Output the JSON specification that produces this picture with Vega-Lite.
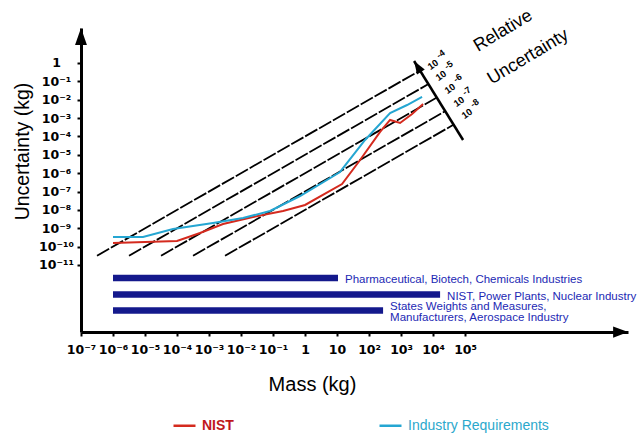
{
  "$schema": "https://vega.github.io/schema/vega-lite/v6.json",
  "width": 547,
  "height": 304,
  "autosize": {"type": "none"},
  "padding": {"left": 81, "top": 28, "right": 14, "bottom": 114},
  "background": "white",
  "config": {"view": {"stroke": null}, "font": "Liberation Sans"},
  "datasets": {
    "series": [
      {"series": "NIST", "m": 1e-6, "u": 1.57e-10},
      {"series": "NIST", "m": 1e-4, "u": 2.02e-10},
      {"series": "NIST", "m": 5.24e-4, "u": 5.5e-10},
      {"series": "NIST", "m": 2.74e-3, "u": 1.7e-9},
      {"series": "NIST", "m": 0.0237, "u": 4.09e-9},
      {"series": "NIST", "m": 0.205, "u": 8.7e-9},
      {"series": "NIST", "m": 1, "u": 1.85e-8},
      {"series": "NIST", "m": 14.3, "u": 2.57e-7},
      {"series": "NIST", "m": 52.4, "u": 5.2e-6},
      {"series": "NIST", "m": 221, "u": 1.75e-4},
      {"series": "NIST", "m": 453, "u": 7.9e-4},
      {"series": "NIST", "m": 931, "u": 5.4e-4},
      {"series": "NIST", "m": 2208, "u": 1.67e-3},
      {"series": "NIST", "m": 4875, "u": 5.85e-3},
      {"series": "Industry Requirements", "m": 1e-6, "u": 3.33e-10},
      {"series": "Industry Requirements", "m": 8.66e-6, "u": 3.33e-10},
      {"series": "Industry Requirements", "m": 7.5e-5, "u": 9.1e-10},
      {"series": "Industry Requirements", "m": 1.33e-3, "u": 1.93e-9},
      {"series": "Industry Requirements", "m": 0.01155, "u": 3.61e-9},
      {"series": "Industry Requirements", "m": 0.0806, "u": 8.7e-9},
      {"series": "Industry Requirements", "m": 0.698, "u": 5.7e-8},
      {"series": "Industry Requirements", "m": 12.4, "u": 1.16e-6},
      {"series": "Industry Requirements", "m": 75, "u": 6.4e-5},
      {"series": "Industry Requirements", "m": 453, "u": 1.89e-3},
      {"series": "Industry Requirements", "m": 1540, "u": 5.15e-3},
      {"series": "Industry Requirements", "m": 4530, "u": 1.41e-2}
    ],
    "refLines": [
      {"k": "1e-4", "m": 3.162e-7, "u": 3.162e-11},
      {"k": "1e-4", "m": 4074, "u": 0.4074},
      {"k": "1e-5", "m": 3.162e-6, "u": 3.162e-11},
      {"k": "1e-5", "m": 7413, "u": 0.07413},
      {"k": "1e-6", "m": 3.162e-5, "u": 3.162e-11},
      {"k": "1e-6", "m": 13490, "u": 0.01349},
      {"k": "1e-7", "m": 3.162e-4, "u": 3.162e-11},
      {"k": "1e-7", "m": 24547, "u": 0.0024547},
      {"k": "1e-8", "m": 3.162e-3, "u": 3.162e-11},
      {"k": "1e-8", "m": 45709, "u": 4.5709e-4}
    ],
    "bars": [
      {"m0": 1e-6, "m": 10.7, "u": 1.95e-12, "label": "Pharmaceutical, Biotech, Chemicals Industries"},
      {"m0": 1e-6, "m": 16558, "u": 2.45e-13, "label": "NIST, Power Plants, Nuclear Industry"},
      {"m0": 1e-6, "m": 274, "u": 3.31e-14, "label": "States Weights and Measures,\nManufacturers, Aerospace Industry"}
    ],
    "relAxis": [
      {"m": 86596, "u": 6.4e-5, "m2": 2547, "u2": 1.285}
    ],
    "arrows": [
      {"name": "yaxis", "m": 1e-7, "u": 27.7},
      {"name": "xaxis", "m": 7.24e9, "u": 2.239e-15},
      {"name": "rel", "m": 3254, "u": 0.645}
    ],
    "rLabels": [
      {"m": 14322, "u": 1.455, "exp": "-4"},
      {"m": 25468, "u": 0.3664, "exp": "-5"},
      {"m": 48753, "u": 0.07178, "exp": "-6"},
      {"m": 93111, "u": 0.01406, "exp": "-7"},
      {"m": 165577, "u": 0.003126, "exp": "-8"}
    ],
    "annot": [
      {"m": 1.549e6, "u": 55.3, "label": "Relative"},
      {"m": 9.33e6, "u": 2.12, "label": "Uncertainty"}
    ]
  },
  "encoding": {
    "x": {
      "field": "m",
      "type": "quantitative",
      "scale": {"type": "log", "domain": [1e-7, 1.23e10], "nice": false},
      "axis": {
        "title": "Mass (kg)",
        "values": [1e-7, 1e-6, 1e-5, 1e-4, 1e-3, 1e-2, 1e-1, 1, 10, 100, 1000, 10000, 100000],
        "labelExpr": "['10⁻⁷','10⁻⁶','10⁻⁵','10⁻⁴','10⁻³','10⁻²','10⁻¹','1','10','10²','10³','10⁴','10⁵'][round(log(datum.value)/LN10)+7]",
        "grid": false,
        "domainColor": "black",
        "domainWidth": 3,
        "tickColor": "black",
        "tickWidth": 2,
        "tickSize": 4,
        "labelFont": "DejaVu Sans",
        "labelFontSize": 12.5,
        "labelFontWeight": "bold",
        "labelColor": "black",
        "labelPadding": 7,
        "labelFlush": false,
        "labelOverlap": false,
        "titleFontSize": 20,
        "titleFontWeight": "normal",
        "titleColor": "black",
        "titleX": 231,
        "titleY": 52,
        "titleAlign": "center",
        "titleBaseline": "middle"
      }
    },
    "y": {
      "field": "u",
      "type": "quantitative",
      "scale": {"type": "log", "domain": [2.239e-15, 80.5], "nice": false},
      "axis": {
        "title": "Uncertainty (kg)",
        "values": [1e-11, 1e-10, 1e-9, 1e-8, 1e-7, 1e-6, 1e-5, 1e-4, 1e-3, 1e-2, 1e-1, 1],
        "labelExpr": "['10⁻¹¹','10⁻¹⁰','10⁻⁹','10⁻⁸','10⁻⁷','10⁻⁶','10⁻⁵','10⁻⁴','10⁻³','10⁻²','10⁻¹','1'][round(log(datum.value)/LN10)+11]",
        "grid": false,
        "domainColor": "black",
        "domainWidth": 3,
        "tickColor": "black",
        "tickWidth": 2,
        "tickSize": 4,
        "labelFont": "DejaVu Sans",
        "labelFontSize": 12.5,
        "labelFontWeight": "bold",
        "labelColor": "black",
        "labelAlign": "center",
        "labelBaseline": "middle",
        "labelPadding": 21,
        "labelFlush": false,
        "labelOverlap": false,
        "titleFontSize": 19.5,
        "titleFontWeight": "normal",
        "titleColor": "black",
        "titleAngle": -90,
        "titleX": -59,
        "titleY": 123,
        "titleAlign": "center",
        "titleBaseline": "middle"
      }
    }
  },
  "layer": [
    {
      "data": {"name": "refLines"},
      "mark": {"type": "line", "color": "black", "strokeWidth": 1.8, "strokeDash": [14, 2]},
      "encoding": {"detail": {"field": "k", "type": "nominal"}}
    },
    {
      "data": {"name": "series"},
      "mark": {"type": "line", "strokeWidth": 2},
      "encoding": {
        "color": {
          "field": "series",
          "type": "nominal",
          "scale": {"domain": ["NIST", "Industry Requirements"], "range": ["#d42a1e", "#25a6d2"]},
          "legend": {
            "orient": "none",
            "legendX": 91,
            "legendY": 385,
            "direction": "horizontal",
            "title": null,
            "padding": 0,
            "symbolType": "stroke",
            "symbolSize": 484,
            "symbolStrokeWidth": 2.5,
            "labelFontSize": 14,
            "labelOffset": 5,
            "columnPadding": 140,
            "labelColor": {"expr": "datum.value === 'NIST' ? '#c0181c' : '#2ba8cc'"},
            "labelFontWeight": {"expr": "datum.value === 'NIST' ? 'bold' : 'normal'"}
          }
        }
      }
    },
    {
      "data": {"name": "bars"},
      "mark": {"type": "rule", "strokeWidth": 6.5, "color": "#14198c"},
      "encoding": {"x2": {"field": "m0"}}
    },
    {
      "data": {"name": "bars"},
      "transform": [{"filter": "datum.u > 1e-13"}],
      "mark": {"type": "text", "align": "left", "baseline": "middle", "dx": 7, "dy": 2, "fontSize": 11.5, "color": "#1c28b4"},
      "encoding": {"text": {"field": "label", "type": "nominal"}}
    },
    {
      "data": {"name": "bars"},
      "transform": [{"filter": "datum.u < 1e-13"}],
      "mark": {"type": "text", "align": "left", "baseline": "middle", "dx": 7, "dy": -3.5, "fontSize": 11.5, "color": "#1c28b4", "lineBreak": "\n", "lineHeight": 10.5},
      "encoding": {"text": {"field": "label", "type": "nominal"}}
    },
    {
      "data": {"name": "relAxis"},
      "mark": {"type": "rule", "strokeWidth": 2.5, "color": "black"},
      "encoding": {"x2": {"field": "m2"}, "y2": {"field": "u2"}}
    },
    {
      "data": {"name": "arrows"},
      "transform": [{"filter": "datum.name === 'yaxis'"}],
      "mark": {"type": "point", "shape": "M0,-1L0.7,1L-0.7,1Z", "size": 289, "filled": true, "opacity": 1, "color": "black", "strokeWidth": 0}
    },
    {
      "data": {"name": "arrows"},
      "transform": [{"filter": "datum.name === 'xaxis'"}],
      "mark": {"type": "point", "shape": "M1,0L-1,0.75L-1,-0.75Z", "size": 225, "filled": true, "opacity": 1, "color": "black", "strokeWidth": 0}
    },
    {
      "data": {"name": "arrows"},
      "transform": [{"filter": "datum.name === 'rel'"}],
      "mark": {"type": "point", "shape": "M0,-1L0.7,1L-0.7,1Z", "size": 169, "angle": -32, "filled": true, "opacity": 1, "color": "black", "strokeWidth": 0}
    },
    {
      "data": {"name": "rLabels"},
      "mark": {"type": "text", "text": "10", "align": "right", "baseline": "middle", "angle": -35, "dx": -1.5, "dy": 1, "fontSize": 9.5, "fontWeight": "bold", "color": "black"}
    },
    {
      "data": {"name": "rLabels"},
      "mark": {"type": "text", "align": "left", "baseline": "middle", "angle": -35, "dx": 1.5, "dy": -3.5, "fontSize": 9, "fontWeight": "bold", "color": "black"},
      "encoding": {"text": {"field": "exp", "type": "nominal"}}
    },
    {
      "data": {"name": "annot"},
      "mark": {"type": "text", "align": "center", "baseline": "middle", "angle": -31, "fontSize": 18, "color": "black"},
      "encoding": {"text": {"field": "label", "type": "nominal"}}
    }
  ]
}
